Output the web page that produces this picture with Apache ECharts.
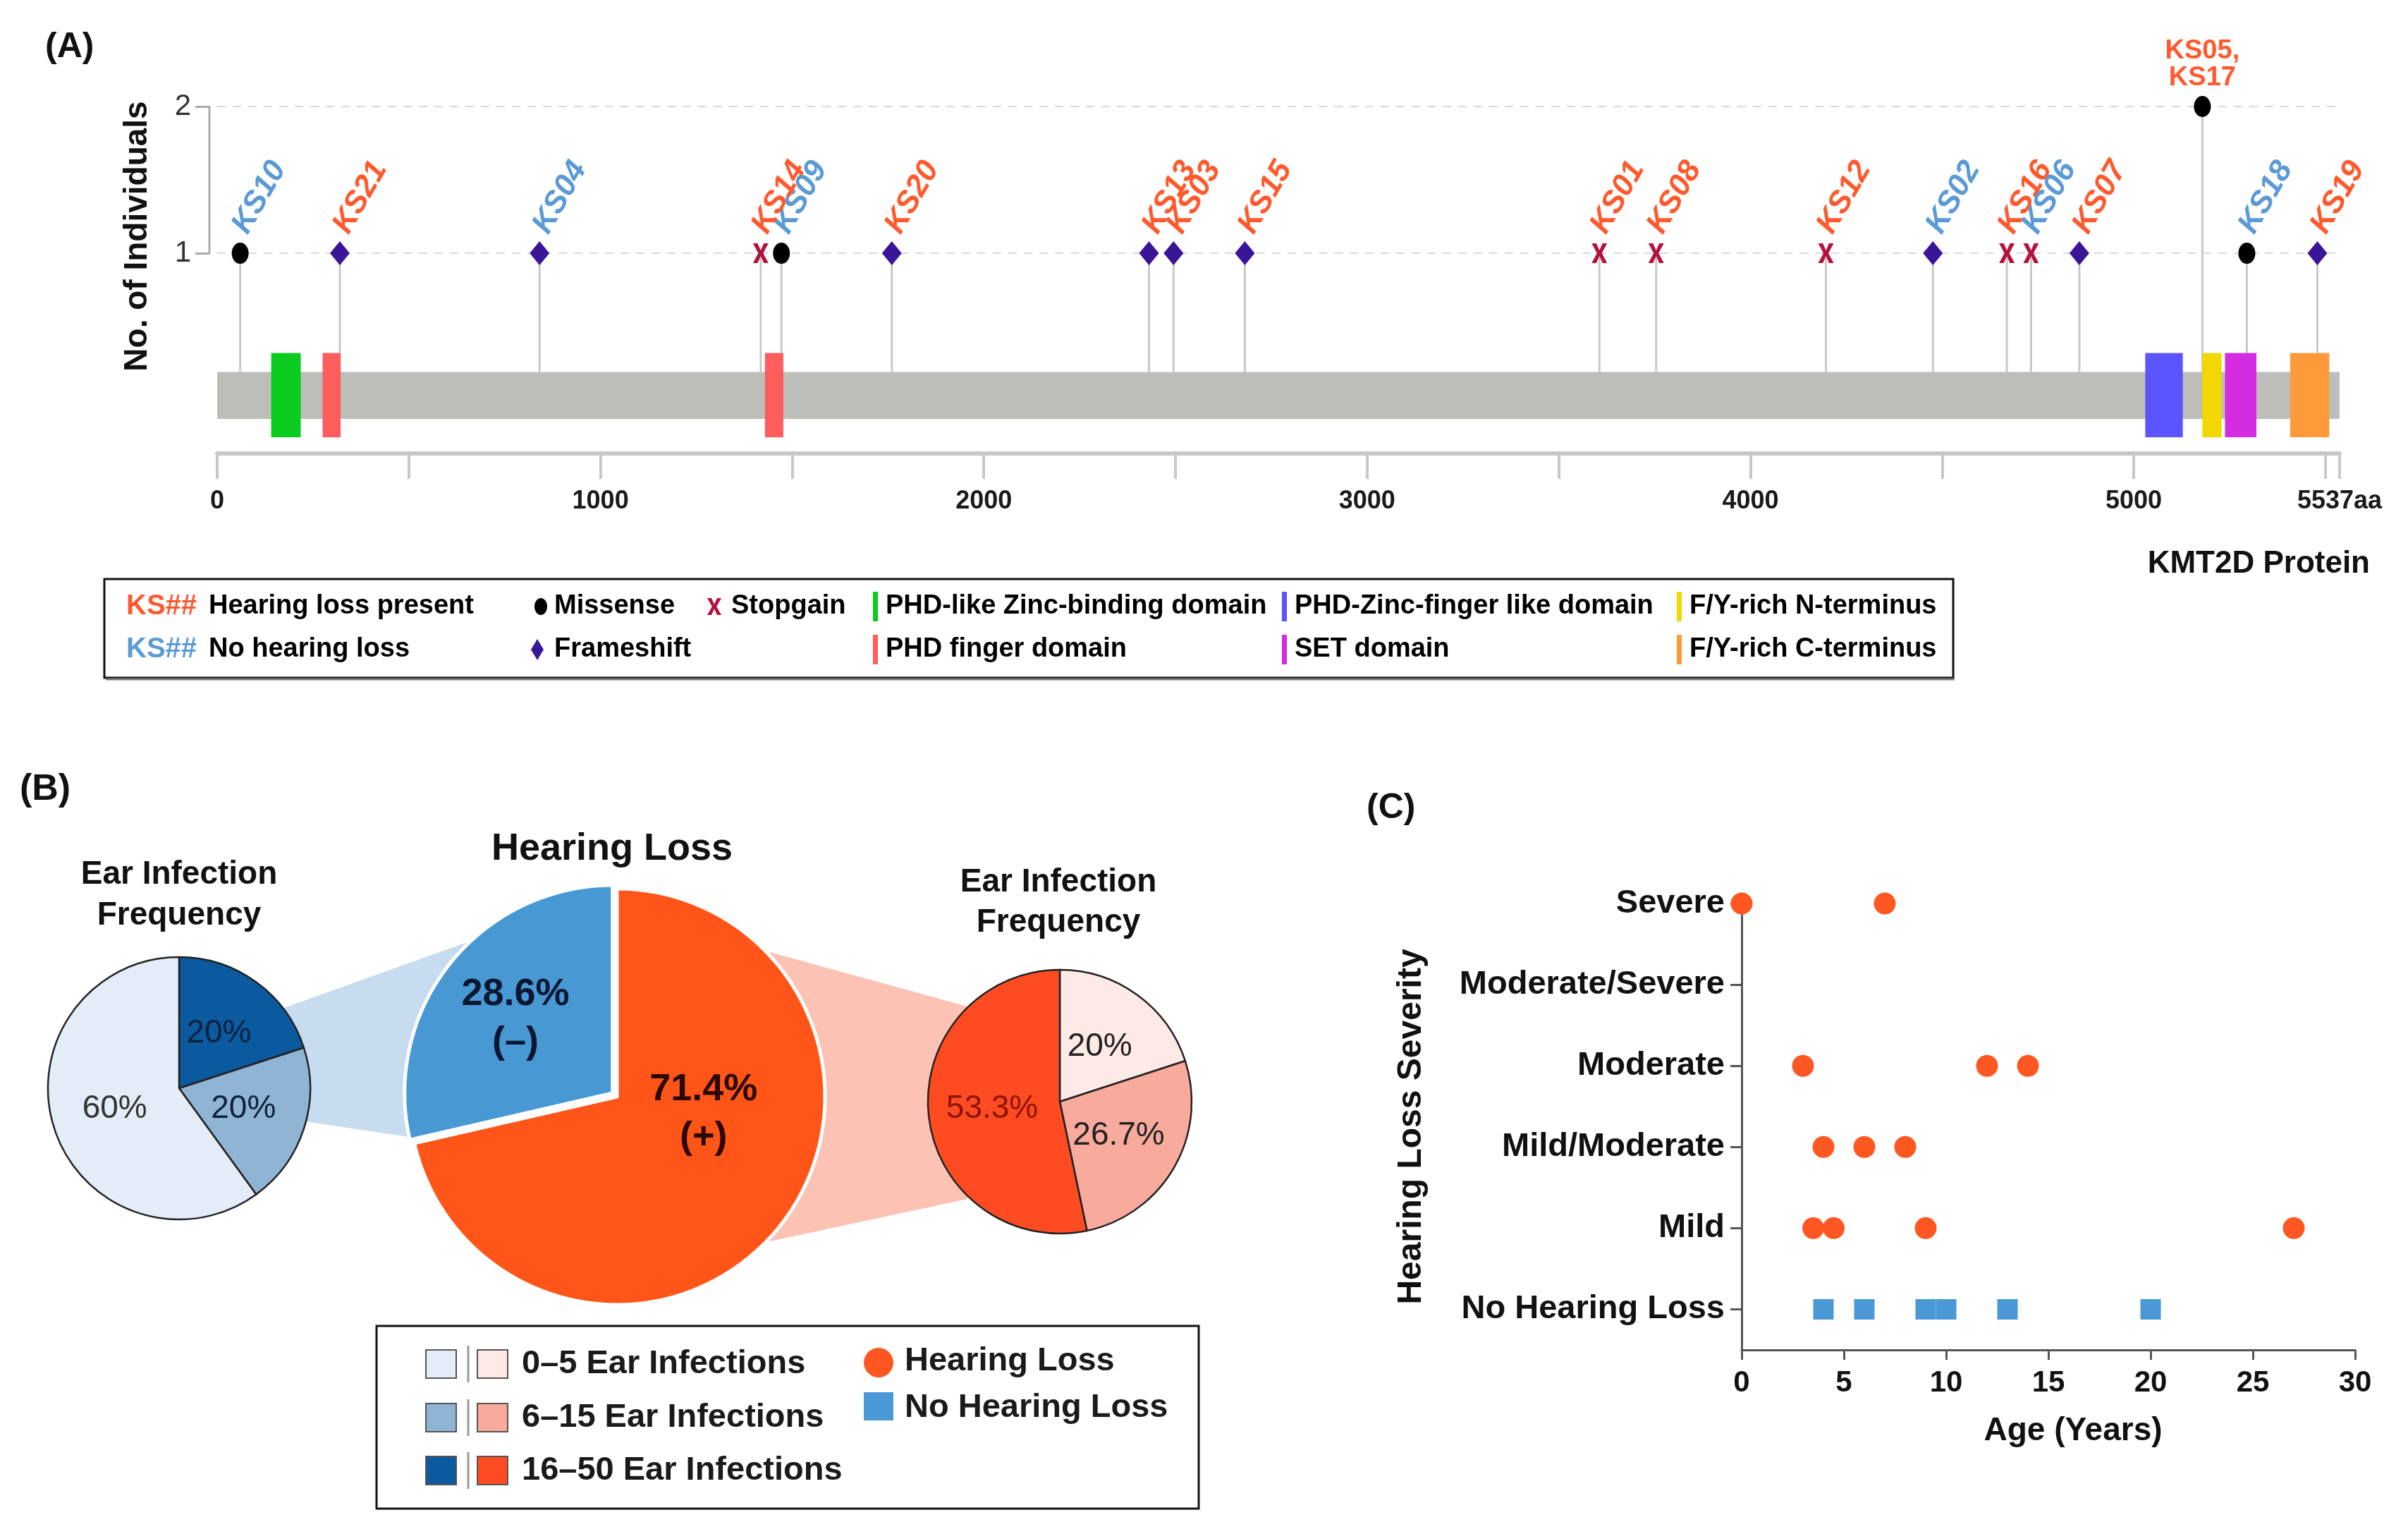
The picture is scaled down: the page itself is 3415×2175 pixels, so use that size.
<!DOCTYPE html>
<html>
<head>
<meta charset="utf-8">
<script src="https://cdn.jsdelivr.net/npm/echarts@6.0.0/dist/echarts.min.js"></script>
<style>
html,body{margin:0;padding:0;background:#ffffff;}
#chart{width:3415px;height:2175px;}
</style>
</head>
<body>
<div id="chart"></div>
<script>
// ================= DATA =================
// Panel A: KMT2D protein variants
const proteinLength = 5537;
const variantIds = ['KS10','KS21','KS04','KS14','KS09','KS20','KS13','KS03','KS15','KS01','KS08','KS12','KS02','KS16','KS06','KS07','KS05, KS17','KS18','KS19'];
const variantPositions = [60, 320, 841, 1418, 1472, 1760, 2431, 2495, 2681, 3606, 3754, 4197, 4476, 4669, 4732, 4858, 5179, 5295, 5479];
const variantCounts = [1,1,1,1,1,1,1,1,1,1,1,1,1,1,1,1,2,1,1];
const variantTypes = ['Missense','Frameshift','Frameshift','Stopgain','Missense','Frameshift','Frameshift','Frameshift','Frameshift','Stopgain','Stopgain','Stopgain','Frameshift','Stopgain','Stopgain','Frameshift','Missense','Missense','Frameshift'];
const variantHearingLoss = [0,1,0,1,0,1,1,1,1,1,1,1,0,1,0,1,1,0,1];
const domainNames = ['PHD-like Zinc-binding domain','PHD finger domain','PHD finger domain','PHD-Zinc-finger like domain','F/Y-rich N-terminus','SET domain','F/Y-rich C-terminus'];
const domainStarts = [141, 275, 1429, 5030, 5179, 5238, 5408];
const domainEnds   = [218, 322, 1477, 5128, 5229, 5320, 5510];
const aaTicks = [0,500,1000,1500,2000,2500,3000,3500,4000,4500,5000,5500,5537];
const aaTickLabels = [0,1000,2000,3000,4000,5000,5537];
const countTicks = [1,2];

// Panel B: hearing loss and ear infection frequency
const hearingLossGroups = ['Hearing Loss','No Hearing Loss'];
const hearingLossPercent = [71.4, 28.6];
const hearingLossSigns = ['(+)','(\u2013)'];
const infectionBins = ['0\u20135 Ear Infections','6\u201315 Ear Infections','16\u201350 Ear Infections'];
const noHLInfectionPercent = [60, 20, 20];
const hlInfectionPercent = [20, 26.7, 53.3];

// Panel C: severity vs age
const severityLevels = ['No Hearing Loss','Mild','Mild/Moderate','Moderate','Moderate/Severe','Severe'];
const hlAges = [0, 7, 3, 12, 14, 4, 6, 8, 3.5, 4.5, 9, 27];
const hlSeverities = ['Severe','Severe','Moderate','Moderate','Moderate','Mild/Moderate','Mild/Moderate','Mild/Moderate','Mild','Mild','Mild','Mild'];
const noHLAges = [4, 6, 9, 10, 13, 20];
const ageTicks = [0,5,10,15,20,25,30];

// ================= STYLE =================
const FONT = "'Liberation Sans', Arial, Helvetica, sans-serif";
const NARROW = "'Liberation Sans Narrow', 'Arial Narrow', 'Liberation Sans', sans-serif";
const HL_COLOR = '#ff5a2e';
const NOHL_COLOR = '#5b9bd5';
const X_PATH = 'path://M0,0L3,0L5,3.6L7,0L10,0L6.6,5L10,10L7,10L5,6.4L3,10L0,10L3.4,5Z';
const typeStyle = {
  Missense:   {symbol:'circle',  size:[24,30], color:'#000000'},
  Frameshift: {symbol:'diamond', size:[28,34], color:'#3a1597'},
  Stopgain:   {symbol:X_PATH,    size:[22,28], color:'#b3123f'}
};
const domainColors = {
  'PHD-like Zinc-binding domain':'#0acb1e',
  'PHD finger domain':'#ff5c5c',
  'PHD-Zinc-finger like domain':'#5b55ff',
  'F/Y-rich N-terminus':'#f3d700',
  'SET domain':'#d42ce0',
  'F/Y-rich C-terminus':'#ff9a3a'
};
const blueShades = ['#e4edf7','#90b4d4','#0b599e'];
const pinkShades = ['#fde9e6','#f8aa9d','#ff4b21'];
const PROT_TOP = 0.19, PROT_BOTTOM = -0.13, DOM_TOP = 0.32, DOM_BOTTOM = -0.255;

// ================= HELPERS =================
function txt(text, x, y, o) {
  const s = Object.assign({text: text, fill:'#111', fontSize:42, fontFamily:FONT, fontWeight:'normal',
    textAlign:'left', textVerticalAlign:'middle', align:'left', verticalAlign:'middle'}, o || {});
  if (o && o.textAlign) s.align = o.textAlign;
  if (o && o.textVerticalAlign) s.verticalAlign = o.textVerticalAlign;
  return {type:'text', x:x, y:y, z:20, silent:true, rotation:(o && o.rot) || 0, style:s};
}
function rect(x,y,w,h,fill,stroke,lw,z) {
  return {type:'rect', z:z||20, silent:true, shape:{x:x,y:y,width:w,height:h}, style:{fill:fill||'none', stroke:stroke||null, lineWidth:lw||0}};
}

function variantSeries(type) {
  const st = typeStyle[type];
  const data = [];
  variantIds.forEach(function(id, i) {
    if (variantTypes[i] !== type) return;
    const col = variantHearingLoss[i] ? HL_COLOR : NOHL_COLOR;
    const item = {name:id, value:[variantPositions[i], variantCounts[i]], label:{color:col}};
    if (id.indexOf(',') >= 0) {
      Object.assign(item.label, {position:'top', rotate:0, offset:[0,0], distance:6, fontStyle:'normal', fontWeight:'bold',
        fontFamily:NARROW, align:'center', verticalAlign:'bottom', lineHeight:38, fontSize:38});
    }
    data.push(item);
  });
  const s = {
    type:'scatter', name:type, xAxisIndex:0, yAxisIndex:0, z:6, silent:true,
    symbol:st.symbol, symbolSize:st.size, itemStyle:{color:st.color, opacity:1},
    data:data,
    label:{show:true, position:'right', rotate:60, align:'left', verticalAlign:'middle', distance:2,
      offset:[20,-28], fontSize:44, fontStyle:'italic', fontWeight:'bold', fontFamily:FONT,
      formatter:function(p){ return p.name.replace(', ', ',\n'); }}
  };
  if (type === 'Missense') {
    s.markLine = {silent:true, symbol:'none', animation:false, label:{show:false},
      lineStyle:{type:[12,10], color:'#d9d9d9', width:2}, data: countTicks.map(function(v){ return {yAxis:v}; })};
  }
  return s;
}

// ================= GRAPHIC (titles, legends, connectors) =================
const graphics = [];
// panel labels
graphics.push(txt('(A)', 64, 67, {fontSize:50, fontWeight:'bold'}));
graphics.push(txt('(B)', 28, 1120, {fontSize:52, fontWeight:'bold'}));
graphics.push(txt('(C)', 1938, 1146, {fontSize:50, fontWeight:'bold'}));
// panel A axis title & protein name
graphics.push(txt('No. of Individuals', 195, 335, {fontSize:46, fontWeight:'bold', textAlign:'center', rot:Math.PI/2}));
graphics.push(txt('KMT2D Protein', 3361, 800, {fontSize:44, fontWeight:'bold', textAlign:'right'}));
// panel A legend
(function(){
  const r1 = 860, r2 = 921;
  const LT = {fill:'#000', fontWeight:'bold', fontSize:38};
  graphics.push(rect(148, 821, 2622, 140, 'none', '#111', 3));
  graphics.push({type:'line', z:20, silent:true, shape:{x1:150,y1:963,x2:2772,y2:963}, style:{stroke:'#777', lineWidth:3}});
  graphics.push(txt('KS##', 179, r1, {fill:HL_COLOR, fontWeight:'bold', fontSize:40}));
  graphics.push(txt('Hearing loss present', 296, r1, LT));
  graphics.push(txt('KS##', 179, r2, {fill:NOHL_COLOR, fontWeight:'bold', fontSize:40}));
  graphics.push(txt('No hearing loss', 296, r2, LT));
  graphics.push({type:'ellipse', z:20, silent:true, shape:{cx:767, cy:r1, rx:9, ry:12}, style:{fill:typeStyle.Missense.color}});
  graphics.push(txt('Missense', 786, r1, LT));
  graphics.push({type:'polygon', z:20, silent:true, shape:{points:[[762,r2-15],[771,r2],[762,r2+15],[753,r2]]}, style:{fill:typeStyle.Frameshift.color}});
  graphics.push(txt('Frameshift', 786, r2, LT));
  const xw = 20, xh = 24, x0 = 1003, y0 = r1 - 12;
  const xp = [[0,0],[3,0],[5,3.6],[7,0],[10,0],[6.6,5],[10,10],[7,10],[5,6.4],[3,10],[0,10],[3.4,5]].map(function(p){ return [x0 + p[0]*xw/10, y0 + p[1]*xh/10]; });
  graphics.push({type:'polygon', z:20, silent:true, shape:{points:xp}, style:{fill:typeStyle.Stopgain.color}});
  graphics.push(txt('Stopgain', 1037, r1, LT));
  const legDomains = [
    [1238, r1, 'PHD-like Zinc-binding domain'], [1238, r2, 'PHD finger domain'],
    [1818, r1, 'PHD-Zinc-finger like domain'], [1818, r2, 'SET domain'],
    [2378, r1, 'F/Y-rich N-terminus'], [2378, r2, 'F/Y-rich C-terminus']
  ];
  legDomains.forEach(function(d){
    graphics.push(rect(d[0], d[1]-21, 7, 42, domainColors[d[2]]));
    graphics.push(txt(d[2], d[0]+18, d[1], LT));
  });
})();
// panel B titles
graphics.push(txt('Hearing Loss', 868, 1204, {fontSize:54, fontWeight:'bold', textAlign:'center'}));
graphics.push(txt('Ear Infection', 254, 1240, {fontSize:46, fontWeight:'bold', textAlign:'center'}));
graphics.push(txt('Frequency', 254, 1298, {fontSize:46, fontWeight:'bold', textAlign:'center'}));
graphics.push(txt('Ear Infection', 1501, 1251, {fontSize:46, fontWeight:'bold', textAlign:'center'}));
graphics.push(txt('Frequency', 1501, 1308, {fontSize:46, fontWeight:'bold', textAlign:'center'}));
// panel B connectors (drawn under the pies)
graphics.push({type:'polygon', z:0, silent:true, shape:{points:[[400,1430],[665,1335],[580,1612],[432,1590]]}, style:{fill:'#c7dcef'}});
graphics.push({type:'polygon', z:0, silent:true, shape:{points:[[1092,1350],[1390,1432],[1372,1700],[1092,1760]]}, style:{fill:'#fcc3b5'}});
// panel B legend
(function(){
  graphics.push(rect(534, 1880, 1166, 259, 'none', '#111', 3));
  const rows = [1934, 2010, 2085];
  rows.forEach(function(y, k){
    graphics.push(rect(604, y-20, 43, 40, blueShades[k], '#555', 2));
    graphics.push({type:'line', z:20, silent:true, shape:{x1:664,y1:y-26,x2:664,y2:y+26}, style:{stroke:'#999', lineWidth:3}});
    graphics.push(rect(677, y-20, 43, 40, pinkShades[k], '#555', 2));
    graphics.push(txt(infectionBins[k], 740, y, {fontSize:47, fontWeight:'bold', fill:'#1a1a1a'}));
  });
  graphics.push({type:'circle', z:20, silent:true, shape:{cx:1246, cy:1932, r:21}, style:{fill:'#ff5722'}});
  graphics.push(txt(hearingLossGroups[0], 1283, 1930, {fontSize:47, fontWeight:'bold', fill:'#1a1a1a'}));
  graphics.push(rect(1225, 1974, 42, 40, '#4a98d6'));
  graphics.push(txt(hearingLossGroups[1], 1283, 1996, {fontSize:47, fontWeight:'bold', fill:'#1a1a1a'}));
})();

// ================= OPTION =================
const chart = echarts.init(document.getElementById('chart'), null, {renderer:'canvas'});
const option = {
  animation:false,
  backgroundColor:'#ffffff',
  textStyle:{fontFamily:FONT},
  grid:[
    {left:308, top:151, width:3010, height:492},
    {left:2470, top:1281, width:870, height:633}
  ],
  xAxis:[
    {gridIndex:0, type:'value', min:0, max:proteinLength,
      axisLine:{show:true, onZero:false, lineStyle:{color:'#c8c8c8', width:6}},
      axisTick:{show:true, customValues:aaTicks, length:36, lineStyle:{color:'#c8c8c8', width:4}},
      axisLabel:{show:true, customValues:aaTickLabels, margin:50, fontSize:36, fontWeight:'bold', color:'#1a1a1a', fontFamily:FONT,
        formatter:function(v){ return v === proteinLength ? v + 'aa' : String(v); }},
      splitLine:{show:false}},
    {gridIndex:1, type:'value', min:0, max:30, interval:5,
      axisLine:{show:true, onZero:false, lineStyle:{color:'#555', width:3}},
      axisTick:{show:true, customValues:ageTicks, length:14, lineStyle:{color:'#555', width:3}},
      axisLabel:{show:true, customValues:ageTicks, margin:26, fontSize:42, fontWeight:'bold', color:'#111'},
      splitLine:{show:false},
      name:'Age (Years)', nameLocation:'middle', nameGap:92,
      nameTextStyle:{fontSize:46, fontWeight:'bold', color:'#111', padding:[0,0,0,70]}}
  ],
  yAxis:[
    {gridIndex:0, type:'value', min:-0.365, max:2, offset:11,
      axisLine:{show:false, onZero:false},
      axisTick:{show:true, customValues:countTicks, length:20, lineStyle:{color:'#aaaaaa', width:3}},
      axisLabel:{show:true, customValues:countTicks, margin:26, fontSize:42, color:'#333', fontFamily:NARROW},
      splitLine:{show:false}},
    {gridIndex:1, type:'value', min:-0.5, max:5,
      axisLine:{show:true, onZero:false, lineStyle:{color:'#555', width:3}},
      axisTick:{show:true, customValues:[0,1,2,3,4,5], length:16, lineStyle:{color:'#555', width:3}},
      axisLabel:{show:true, customValues:[0,1,2,3,4,5], margin:24, fontSize:47, fontWeight:'bold', color:'#111',
        formatter:function(v){ return severityLevels[Math.round(v)]; }},
      splitLine:{show:false},
      name:'Hearing Loss Severity', nameLocation:'middle', nameGap:444, nameRotate:90,
      nameTextStyle:{fontSize:48, fontWeight:'bold', color:'#111'}}
  ],
  graphic:{elements:graphics},
  series:[
    {type:'custom', name:'protein', xAxisIndex:0, yAxisIndex:0, z:2, silent:true,
      data:[[0, proteinLength]],
      renderItem:function(p, api){
        const a = api.coord([api.value(0), PROT_TOP]);
        const b = api.coord([api.value(1), PROT_BOTTOM]);
        return {type:'rect', shape:{x:a[0], y:a[1], width:b[0]-a[0], height:b[1]-a[1]}, style:{fill:'#bdbeb9'}};
      }},
    {type:'custom', name:'stems', xAxisIndex:0, yAxisIndex:0, z:2, silent:true,
      data:variantPositions.map(function(x, i){ return [x, variantCounts[i]]; }),
      renderItem:function(p, api){
        const a = api.coord([api.value(0), PROT_TOP]);
        const b = api.coord([api.value(0), api.value(1)]);
        return {type:'line', shape:{x1:a[0], y1:a[1], x2:b[0], y2:b[1]}, style:{stroke:'#c9c9c9', lineWidth:3}};
      }},
    {type:'custom', name:'domains', xAxisIndex:0, yAxisIndex:0, z:3, silent:true,
      data:domainNames.map(function(n, i){ return [domainStarts[i], domainEnds[i], i]; }),
      renderItem:function(p, api){
        const a = api.coord([api.value(0), DOM_TOP]);
        const b = api.coord([api.value(1), DOM_BOTTOM]);
        return {type:'rect', shape:{x:a[0], y:a[1], width:b[0]-a[0], height:b[1]-a[1]},
          style:{fill:domainColors[domainNames[api.value(2)]]}};
      }},
    {type:'custom', name:'countAxis', xAxisIndex:0, yAxisIndex:0, z:3, silent:true, clip:false,
      data:[[countTicks[0], countTicks[countTicks.length-1]]],
      renderItem:function(p, api){
        const a = api.coord([0, api.value(0)]);
        const b = api.coord([0, api.value(1)]);
        return {type:'line', shape:{x1:a[0]-11, y1:a[1]+1, x2:b[0]-11, y2:b[1]-1}, style:{stroke:'#aaaaaa', lineWidth:3}};
      }},
    variantSeries('Missense'),
    variantSeries('Frameshift'),
    variantSeries('Stopgain'),
    {type:'pie', name:'No hearing loss: ear infections', center:[254,1543], radius:186, startAngle:90, clockwise:true, z:3, silent:true,
      data:[2,1,0].map(function(k){ return {name:infectionBins[k], value:noHLInfectionPercent[k], itemStyle:{color:blueShades[k]},
        label:{color: k === 0 ? '#333333' : '#0e213f'}}; }),
      itemStyle:{borderColor:'#222', borderWidth:2.5},
      label:{show:true, position:'inside', formatter:'{c}%', fontSize:46, fontFamily:FONT},
      labelLine:{show:false}, emphasis:{disabled:true}},
    {type:'pie', name:'Hearing loss', center:[875,1555], radius:295, startAngle:90, clockwise:true, z:3, silent:true,
      selectedMode:'single', selectedOffset:8,
      data:hearingLossGroups.map(function(g, i){ return {name:g, value:hearingLossPercent[i], selected: i === 1,
        itemStyle:{color: i === 0 ? '#ff5519' : '#4898d4'}, label:{color: i === 0 ? '#2b0800' : '#0b1730'}}; }),
      itemStyle:{borderColor:'#ffffff', borderWidth:5},
      label:{show:true, position:'inside', fontSize:54, fontWeight:'bold', lineHeight:68,
        formatter:function(p){ return p.value + '%\n' + hearingLossSigns[p.dataIndex]; }},
      labelLayout:function(p){ return p.dataIndex === 0 ? {dx:5, dy:-70} : {dx:-20, dy:-12}; },
      labelLine:{show:false}, emphasis:{disabled:true}, select:{itemStyle:{color:'#4898d4'}}},
    {type:'pie', name:'Hearing loss: ear infections', center:[1503,1562], radius:187, startAngle:90, clockwise:true, z:3, silent:true,
      data:[0,1,2].map(function(k){ return {name:infectionBins[k], value:hlInfectionPercent[k], itemStyle:{color:pinkShades[k]},
        label:{color: k === 2 ? '#8b1505' : '#222222'}}; }),
      itemStyle:{borderColor:'#222', borderWidth:2.5},
      label:{show:true, position:'inside', formatter:'{c}%', fontSize:46, fontFamily:FONT},
      labelLine:{show:false}, emphasis:{disabled:true}},
    {type:'scatter', name:'Hearing Loss', xAxisIndex:1, yAxisIndex:1, z:5, silent:true, clip:false,
      symbol:'circle', symbolSize:31, itemStyle:{color:'#ff5722', opacity:1},
      data:hlAges.map(function(a, i){ return [a, severityLevels.indexOf(hlSeverities[i])]; })},
    {type:'scatter', name:'No Hearing Loss', xAxisIndex:1, yAxisIndex:1, z:5, silent:true, clip:false,
      symbol:'rect', symbolSize:29, itemStyle:{color:'#4a98d6', opacity:1},
      data:noHLAges.map(function(a){ return [a, severityLevels.indexOf('No Hearing Loss')]; })}
  ]
};
chart.setOption(option);
</script>
</body>
</html>
